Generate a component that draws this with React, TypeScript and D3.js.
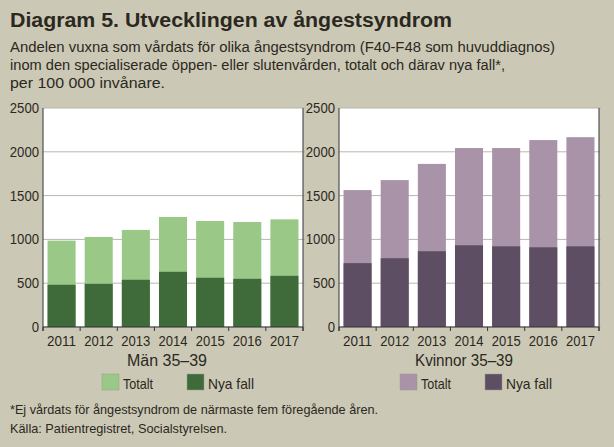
import React from "react";
import * as d3 from "d3";

const years = ["2011", "2012", "2013", "2014", "2015", "2016", "2017"];
const menTotal = [986, 1028, 1108, 1256, 1210, 1199, 1229];
const menNew = [482, 493, 539, 630, 562, 550, 584];
const womenTotal = [1563, 1677, 1862, 2043, 2043, 2134, 2167];
const womenNew = [729, 785, 865, 933, 921, 910, 921];
const yTicks = [0, 500, 1000, 1500, 2000, 2500];

const BG = "#ccc8b6";
const TEXT = "#2b2820";
const FONT = "Liberation Sans, Arial, sans-serif";

type PanelProps = {
  x0: number;
  x1: number;
  total: number[];
  nya: number[];
  light: string;
  dark: string;
  label: string;
  labelX: number;
  labelW: number;
  legX: number;
};

const TOP = 108;
const BOTTOM = 327;

function Panel({ x0, x1, total, nya, light, dark, label, labelX, labelW, legX }: PanelProps) {
  const x = d3.scaleBand<string>().domain(years).range([x0, x1]).paddingInner(0.245).paddingOuter(0.1225);
  const y = d3.scaleLinear().domain([0, 2500]).range([BOTTOM, TOP]);
  const bounds = d3.range(years.length + 1).map((i) => x0 + ((x1 - x0) / years.length) * i);
  return (
    <g>
      <rect x={x0} y={TOP} width={x1 - x0} height={BOTTOM - TOP} fill="#ffffff" />
      {yTicks.map((t) => (
        <line key={"g" + t} x1={x0} x2={x1 + 2} y1={y(t)} y2={y(t)} stroke="#b8b7ae" strokeWidth={1} />
      ))}
      {years.map((yr, i) => (
        <g key={yr}>
          <rect x={x(yr)} y={y(total[i])} width={x.bandwidth()} height={BOTTOM - y(total[i])} fill={light} />
          <rect x={x(yr)} y={y(nya[i])} width={x.bandwidth()} height={BOTTOM - y(nya[i])} fill={dark} />
          <text
            x={(x(yr) as number) + x.bandwidth() / 2}
            y={346}
            fontSize={15}
            textAnchor="middle"
            fill={TEXT}
            fontFamily={FONT}
            textLength={29}
            lengthAdjust="spacingAndGlyphs"
          >
            {yr}
          </text>
        </g>
      ))}
      {bounds.map((b, i) => (
        <line key={"b" + i} x1={b} x2={b} y1={BOTTOM} y2={BOTTOM + 4} stroke="#333" strokeWidth={1} />
      ))}
      <line x1={x0} x2={x0} y1={TOP} y2={BOTTOM + 4} stroke="#333" strokeWidth={1} />
      <line x1={x1} x2={x1} y1={TOP} y2={BOTTOM + 4} stroke="#333" strokeWidth={1} />
      <line x1={x0} x2={x1} y1={BOTTOM} y2={BOTTOM} stroke="#333" strokeWidth={1.2} />
      {yTicks.map((t) => (
        <text
          key={"l" + t}
          x={x0 - 4}
          y={y(t) + 5}
          fontSize={15}
          textAnchor="end"
          fill={TEXT}
          fontFamily={FONT}
          textLength={String(t).length * 7.3}
          lengthAdjust="spacingAndGlyphs"
        >
          {t}
        </text>
      ))}
      <text x={labelX} y={366} fontSize={16} fill={TEXT} fontFamily={FONT} textLength={labelW} lengthAdjust="spacingAndGlyphs">
        {label}
      </text>
      <rect x={legX} y={374} width={17} height={16} fill={light} stroke="#9a9a90" strokeWidth={0.5} />
      <text x={legX + 21} y={389} fontSize={15} fill={TEXT} fontFamily={FONT} textLength={30} lengthAdjust="spacingAndGlyphs">
        Totalt
      </text>
      <rect x={legX + 85} y={374} width={17} height={16} fill={dark} stroke="#9a9a90" strokeWidth={0.5} />
      <text x={legX + 106} y={389} fontSize={15} fill={TEXT} fontFamily={FONT} textLength={46} lengthAdjust="spacingAndGlyphs">
        Nya fall
      </text>
    </g>
  );
}

export default function App() {
  return (
    <svg width={614} height={447} style={{ position: "absolute", left: 0, top: 0 }}>
      <rect x={0} y={0} width={614} height={447} fill={BG} />
      <text x={10} y={27} fontSize={20} fontWeight="bold" fill={TEXT} fontFamily={FONT} textLength={442} lengthAdjust="spacingAndGlyphs">
        Diagram 5. Utvecklingen av ångestsyndrom
      </text>
      <text x={10} y={52} fontSize={14} fill={TEXT} fontFamily={FONT} textLength={545} lengthAdjust="spacingAndGlyphs">
        Andelen vuxna som vårdats för olika ångestsyndrom (F40-F48 som huvuddiagnos)
      </text>
      <text x={10} y={70} fontSize={14} fill={TEXT} fontFamily={FONT} textLength={495} lengthAdjust="spacingAndGlyphs">
        inom den specialiserade öppen- eller slutenvården, totalt och därav nya fall*,
      </text>
      <text x={10} y={88} fontSize={14} fill={TEXT} fontFamily={FONT} textLength={155} lengthAdjust="spacingAndGlyphs">
        per 100 000 invånare.
      </text>
      <Panel
        x0={43}
        x1={303}
        total={menTotal}
        nya={menNew}
        light="#99c887"
        dark="#3f6b3b"
        label="Män 35–39"
        labelX={127}
        labelW={80}
        legX={102}
      />
      <Panel
        x0={339}
        x1={599}
        total={womenTotal}
        nya={womenNew}
        light="#a993a8"
        dark="#5e4e63"
        label="Kvinnor 35–39"
        labelX={415}
        labelW={98}
        legX={400}
      />
      <text x={10} y={414} fontSize={13} fill={TEXT} fontFamily={FONT} textLength={368} lengthAdjust="spacingAndGlyphs">
        *Ej vårdats för ångestsyndrom de närmaste fem föregående åren.
      </text>
      <text x={10} y={433} fontSize={13} fill={TEXT} fontFamily={FONT} textLength={217} lengthAdjust="spacingAndGlyphs">
        Källa: Patientregistret, Socialstyrelsen.
      </text>
    </svg>
  );
}
